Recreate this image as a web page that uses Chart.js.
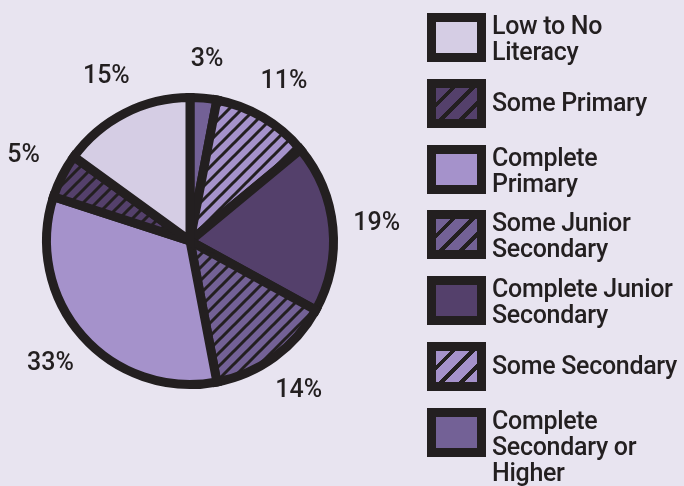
<!DOCTYPE html>
<html>
<head>
<meta charset="utf-8">
<script src="https://cdn.jsdelivr.net/npm/chart.js@4.4.0/dist/chart.umd.min.js"></script>
<style>
  html, body { margin: 0; padding: 0; background: #e8e4f0; }
  #wrap { position: relative; width: 684px; height: 486px; overflow: hidden; }
  #pieChart { position: absolute; left: 0; top: 0; }
  #legend { position: absolute; left: 427px; top: 13px; font-family: Roboto, sans-serif; font-weight: 500; font-size: 25px; line-height: 26px; color: #231f20; }
  .item { display: flex; height: 49px; margin-bottom: 16.8px; }
  .swatch { box-sizing: border-box; width: 59px; height: 49px; border: 9px solid #231f20; flex: none; }
  .text { margin-left: 6px; height: 49px; display: flex; flex-direction: column; justify-content: safe center; white-space: nowrap; letter-spacing: -0.3px; }
</style>
</head>
<body>
<div id="wrap">
  <canvas id="pieChart" width="684" height="486"></canvas>
  <div id="legend"></div>
</div>
<script>
// Data (legend order)
const categories = [
  ["Low to No", "Literacy"],
  ["Some Primary"],
  ["Complete", "Primary"],
  ["Some Junior", "Secondary"],
  ["Complete Junior", "Secondary"],
  ["Some Secondary"],
  ["Complete", "Secondary or", "Higher"]
];
const shares = [15, 5, 33, 14, 19, 11, 3];
const fillColors = ["#d5cde4", "#54406b", "#a592cb", "#736196", "#54406b", "#a592cb", "#736196"];
const hatched = [false, true, false, true, false, true, false];

const inkColor = '#231f20';

// hatch pattern for the pie slices
function makeHatch(color, size, lineWidth) {
  const c = document.createElement('canvas');
  c.width = size;
  c.height = size;
  const ctx = c.getContext('2d');
  ctx.fillStyle = color;
  ctx.fillRect(0, 0, size, size);
  ctx.strokeStyle = inkColor;
  ctx.lineWidth = lineWidth;
  ctx.beginPath();
  ctx.moveTo(-size / 2, size / 2); ctx.lineTo(size / 2, -size / 2);
  ctx.moveTo(0, size); ctx.lineTo(size, 0);
  ctx.moveTo(size / 2, size * 1.5); ctx.lineTo(size * 1.5, size / 2);
  ctx.stroke();
  return ctx.createPattern(c, 'repeat');
}

const sliceFills = fillColors.map((col, i) => hatched[i] ? makeHatch(col, 13, 3) : col);

// pie goes clockwise from the top starting with the last category
const pieLabels = categories.slice().reverse().map(l => l.join(' '));
const pieValues = shares.slice().reverse();
const pieFills = sliceFills.slice().reverse();

const percentLabels = {
  id: 'percentLabels',
  afterDatasetsDraw(chart) {
    const ctx = chart.ctx;
    const meta = chart.getDatasetMeta(0);
    ctx.save();
    ctx.font = '500 25px Roboto, sans-serif';
    ctx.fillStyle = inkColor;
    ctx.textAlign = 'center';
    ctx.textBaseline = 'middle';
    meta.data.forEach((arc, i) => {
      const p = arc.getProps(['x', 'y', 'startAngle', 'endAngle', 'outerRadius'], true);
      const mid = (p.startAngle + p.endAngle) / 2;
      const r = p.outerRadius + 38 + 6 * Math.abs(Math.cos(mid));
      ctx.fillText(pieValues[i] + '%', p.x + Math.cos(mid) * r, p.y + Math.sin(mid) * r);
    });
    ctx.restore();
  }
};

const pieChart = new Chart(document.querySelector('#pieChart').getContext('2d'), {
  type: 'pie',
  data: {
    labels: pieLabels,
    datasets: [{
      data: pieValues,
      backgroundColor: pieFills,
      borderColor: inkColor,
      borderWidth: 9,
      borderJoinStyle: 'miter',
      hoverBorderWidth: 9,
      hoverOffset: 0
    }]
  },
  options: {
    responsive: false,
    animation: false,
    events: [],
    layout: {
      padding: { left: 40, right: 344, top: 93, bottom: 97 }
    },
    plugins: {
      legend: { display: false },
      tooltip: { enabled: false }
    }
  },
  plugins: [percentLabels]
});

// HTML legend
const legendBox = document.querySelector('#legend');
categories.forEach(function(lines, i) {
  const item = document.createElement('div');
  item.className = 'item';
  const swatch = document.createElement('div');
  swatch.className = 'swatch';
  if (hatched[i]) {
    swatch.style.background = `repeating-linear-gradient(135deg, ${fillColors[i]} 0 10px, ${inkColor} 10px 14px)`;
  } else {
    swatch.style.background = fillColors[i];
  }
  const text = document.createElement('div');
  text.className = 'text';
  lines.forEach(function(line) {
    const span = document.createElement('div');
    span.textContent = line;
    text.appendChild(span);
  });
  item.appendChild(swatch);
  item.appendChild(text);
  legendBox.appendChild(item);
});
</script>
</body>
</html>
